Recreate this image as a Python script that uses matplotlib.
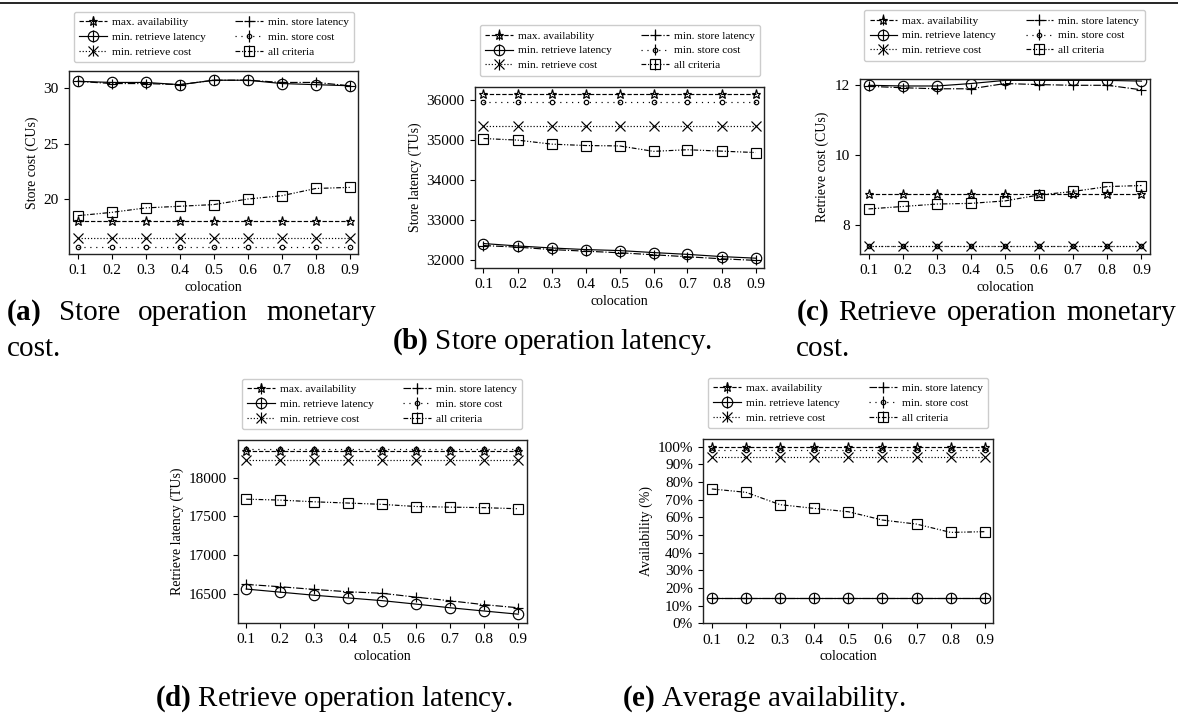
import numpy as np
import matplotlib
matplotlib.use("Agg")
import matplotlib.pyplot as plt
from matplotlib.lines import Line2D
from matplotlib.ticker import PercentFormatter, MultipleLocator

plt.rcParams["font.family"] = ["Liberation Serif", "DejaVu Serif"]
plt.rcParams["mathtext.fontset"] = "custom"
plt.rcParams["mathtext.rm"] = "Liberation Serif"
plt.rcParams["mathtext.bf"] = "Liberation Serif:bold"

# ---------------------------------------------------------------- data
colocation = [0.1, 0.2, 0.3, 0.4, 0.5, 0.6, 0.7, 0.8, 0.9]

series_labels = ["max. availability", "min. retrieve latency", "min. retrieve cost",
                 "min. store latency", "min. store cost", "all criteria"]

# (a) store cost (CUs)
store_cost_max_avail = [18.0, 18.0, 18.0, 18.0, 18.0, 18.0, 18.0, 18.0, 18.0]
store_cost_min_ret_lat = [30.6, 30.5, 30.5, 30.3, 30.7, 30.7, 30.4, 30.3, 30.2]
store_cost_min_ret_cost = [16.5, 16.5, 16.5, 16.5, 16.5, 16.5, 16.5, 16.5, 16.5]
store_cost_min_store_lat = [30.6, 30.4, 30.4, 30.3, 30.7, 30.7, 30.5, 30.5, 30.2]
store_cost_min_store_cost = [15.7, 15.7, 15.7, 15.7, 15.7, 15.7, 15.7, 15.7, 15.7]
store_cost_all = [18.5, 18.8, 19.2, 19.35, 19.5, 20.0, 20.3, 20.95, 21.05]

# (b) store latency (TUs)
store_lat_max_avail = [36140, 36140, 36140, 36140, 36140, 36140, 36140, 36140, 36140]
store_lat_min_ret_lat = [32420, 32360, 32310, 32270, 32245, 32195, 32150, 32095, 32055]
store_lat_min_ret_cost = [35360, 35360, 35360, 35360, 35360, 35360, 35360, 35360, 35360]
store_lat_min_store_lat = [32370, 32330, 32270, 32230, 32190, 32140, 32090, 32040, 32000]
store_lat_min_store_cost = [35940, 35940, 35940, 35940, 35940, 35940, 35940, 35940, 35940]
store_lat_all = [35040, 35000, 34900, 34865, 34855, 34720, 34760, 34725, 34690]

# (c) retrieve cost (CUs)
ret_cost_max_avail = [8.88, 8.88, 8.88, 8.88, 8.88, 8.88, 8.88, 8.88, 8.88]
ret_cost_min_ret_lat = [12.0, 11.98, 11.98, 12.05, 12.14, 12.14, 12.14, 12.14, 12.12]
ret_cost_min_ret_cost = [7.4, 7.4, 7.4, 7.4, 7.4, 7.4, 7.4, 7.4, 7.4]
ret_cost_min_store_lat = [11.97, 11.93, 11.9, 11.9, 12.05, 12.02, 12.0, 12.0, 11.87]
ret_cost_min_store_cost = [7.4, 7.4, 7.4, 7.4, 7.4, 7.4, 7.4, 7.4, 7.4]
ret_cost_all = [8.46, 8.53, 8.6, 8.62, 8.69, 8.86, 8.96, 9.1, 9.13]

# (d) retrieve latency (TUs)
ret_lat_max_avail = [18345, 18345, 18345, 18345, 18345, 18345, 18345, 18345, 18345]
ret_lat_min_ret_lat = [16560, 16520, 16480, 16445, 16410, 16365, 16318, 16276, 16235]
ret_lat_min_ret_cost = [18225, 18225, 18225, 18225, 18225, 18225, 18225, 18225, 18225]
ret_lat_min_store_lat = [16620, 16590, 16555, 16525, 16505, 16455, 16408, 16358, 16318]
ret_lat_min_store_cost = [18370, 18370, 18370, 18370, 18370, 18370, 18370, 18370, 18370]
ret_lat_all = [17722, 17710, 17688, 17672, 17655, 17627, 17619, 17612, 17598]

# (e) availability (%)
avail_max_avail = [100, 100, 100, 100, 100, 100, 100, 100, 100]
avail_min_ret_lat = [14.5, 14.5, 14.5, 14.5, 14.5, 14.5, 14.5, 14.5, 14.5]
avail_min_ret_cost = [94.3, 94.3, 94.3, 94.3, 94.3, 94.3, 94.3, 94.3, 94.3]
avail_min_store_lat = [14.5, 14.5, 14.5, 14.5, 14.5, 14.5, 14.5, 14.5, 14.5]
avail_min_store_cost = [98.0, 98.0, 98.0, 98.0, 98.0, 98.0, 98.0, 98.0, 98.0]
avail_all = [76.1, 74.2, 67.2, 65.1, 63.2, 58.5, 56.2, 51.5, 51.9]

# ---------------------------------------------------------------- styles
styles = [
    dict(marker="*", ms=6.5, ls="--"),
    dict(marker="o", ms=7.5, ls="-"),
    dict(marker="x", ms=6.5, ls=":"),
    dict(marker="+", ms=7, ls="-."),
    dict(marker="o", ms=3.2, ls=(0, (1, 4))),
    dict(marker="s", ms=7, ls=(0, (4, 1.5, 1, 1.5, 1, 1.5))),
]

W, H = 1178, 715
fig = plt.figure(figsize=(W / 100, H / 100), dpi=100)


def px_axes(x0, x1, y0, y1):
    return fig.add_axes([x0 / W, 1 - y1 / H, (x1 - x0) / W, (y1 - y0) / H])


def panel(box, legend_center, series, ylabel, ylim, yticks=None, percent=False):
    ax = px_axes(*box)
    handles = []
    for vals, st in zip(series, styles):
        c = ax.errorbar(colocation, vals, yerr=np.zeros(len(vals)), color="black",
                        lw=0.85, elinewidth=0.85, capsize=0, marker=st["marker"],
                        ms=st["ms"], mfc="none", mec="black", mew=0.85,
                        ls=st["ls"])
        handles.append(c)
    ax.set_xlim(0.075, 0.925)
    ax.set_xticks(colocation)
    ax.set_xticklabels([f"{v:.1f}" for v in colocation])
    ax.set_ylim(*ylim)
    if yticks is not None:
        ax.set_yticks(yticks)
    if percent:
        ax.yaxis.set_major_locator(MultipleLocator(10))
        ax.yaxis.set_major_formatter(PercentFormatter(decimals=0))
    ax.set_xlabel("colocation", fontsize=10, labelpad=2.5)
    ax.set_ylabel(ylabel, fontsize=10, labelpad=3.5)
    ax.tick_params(direction="out", length=3.5, width=0.8, labelsize=11, pad=4)
    for sp in ax.spines.values():
        sp.set_linewidth(1.0)
        sp.set_color("#222222")
    cx, cy = legend_center
    ax.legend(handles, series_labels, ncol=2, loc="center",
              bbox_to_anchor=(cx / W, 1 - cy / H), bbox_transform=fig.transFigure,
              fontsize=8.2, handlelength=2.4, columnspacing=2.6, labelspacing=0.42,
              borderpad=0.5, handletextpad=0.45, frameon=True, fancybox=True,
              edgecolor="0.8", framealpha=1.0)
    return ax


panel((69.3, 358.3, 71, 254), (214, 37),
      [store_cost_max_avail, store_cost_min_ret_lat, store_cost_min_ret_cost,
       store_cost_min_store_lat, store_cost_min_store_cost, store_cost_all],
      "Store cost (CUs)", (15.05, 31.53), yticks=[20, 25, 30])

panel((475, 764, 87, 268), (620, 50.5),
      [store_lat_max_avail, store_lat_min_ret_lat, store_lat_min_ret_cost,
       store_lat_min_store_lat, store_lat_min_store_cost, store_lat_all],
      "Store latency (TUs)", (31810, 36325),
      yticks=[32000, 33000, 34000, 35000, 36000])

panel((860, 1150, 79, 254), (1004.5, 35.5),
      [ret_cost_max_avail, ret_cost_min_ret_lat, ret_cost_min_ret_cost,
       ret_cost_min_store_lat, ret_cost_min_store_cost, ret_cost_all],
      "Retrieve cost (CUs)", (7.17, 12.18), yticks=[8, 10, 12])

panel((237.7, 526.7, 440, 622.7), (382, 404),
      [ret_lat_max_avail, ret_lat_min_ret_lat, ret_lat_min_ret_cost,
       ret_lat_min_store_lat, ret_lat_min_store_cost, ret_lat_all],
      "Retrieve latency (TUs)", (16125, 18487),
      yticks=[16500, 17000, 17500, 18000])

panel((703.3, 993.3, 439, 623.3), (848, 403),
      [avail_max_avail, avail_min_ret_lat, avail_min_ret_cost,
       avail_min_store_lat, avail_min_store_cost, avail_all],
      "Availability (%)", (0, 104.4), percent=True)

# rule along the top of the page
fig.add_artist(Line2D([0, 1], [1 - 3 / H, 1 - 3 / H], transform=fig.transFigure,
                      color="black", lw=1.2))

# ---------------------------------------------------------------- captions
cap_fs = 21
renderer = fig.canvas.get_renderer()


def caption(x, baseline, s):
    return fig.text(x / W, 1 - baseline / H, s, fontsize=cap_fs, ha="left",
                    va="baseline")


def justified(words, x0, x1, baseline):
    texts = [caption(x0, baseline, w) for w in words]
    widths = [t.get_window_extent(renderer).width for t in texts]
    gap = (x1 - x0 - sum(widths)) / (len(words) - 1)
    x = x0
    for t, w in zip(texts, widths):
        t.set_position((x / W, 1 - baseline / H))
        x += w + gap


justified([r"$\mathbf{(a)}$", "Store", "operation", "monetary"], 6, 376, 320)
caption(7, 356, "cost.")

caption(391.7, 349, r"$\mathbf{(b)}$ Store operation latency.")

justified([r"$\mathbf{(c)}$", "Retrieve", "operation", "monetary"], 796, 1176, 320)
caption(796, 356, "cost.")

caption(155, 706, r"$\mathbf{(d)}$ Retrieve operation latency.")
caption(622, 706, r"$\mathbf{(e)}$ Average availability.")

fig.savefig("out.png", dpi=100)
